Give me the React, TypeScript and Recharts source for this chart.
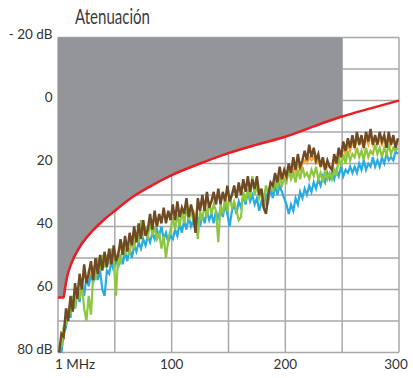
import { ComposedChart, Line, Area, XAxis, YAxis, CartesianGrid } from 'recharts'

// frequency axis (MHz): samples every 2 MHz starting at 1 MHz
const FREQ_START = 1
const FREQ_STEP = 2

// attenuation in dB
const BROWN = [
  80, 74, 75, 66, 70, 62, 67, 58, 63, 55,
  60, 52, 58, 55, 51, 57, 50, 55, 49, 54,
  48, 53, 47, 52, 46, 51, 49, 44, 49, 43,
  48, 42, 46, 40, 45, 39, 44, 38, 43, 41,
  36, 41, 35, 40, 36, 39, 34, 39, 35, 38,
  33, 38, 32, 37, 34, 36, 31, 37, 33, 36,
  42, 31, 35, 30, 35, 29, 34, 32, 29, 33,
  28, 33, 29, 32, 27, 32, 30, 27, 31, 26,
  30, 25, 29, 24, 29, 25, 28, 24, 30, 28,
  34, 36, 30, 26, 27, 23, 26, 21, 25, 22,
  24, 20, 23, 18, 22, 17, 21, 19, 16, 19,
  14, 18, 15, 19, 17, 21, 18, 22, 19, 21,
  22, 17, 20, 15, 18, 13, 16, 12, 15, 11,
  15, 10, 14, 11, 15, 10, 13, 9, 14, 11,
  14, 10, 13, 11, 15, 10, 14, 11, 15, 12,
]
const GREEN = [
  79, 78, 72, 71, 66, 68, 62, 66, 60, 63,
  58, 66, 70, 62, 68, 55, 57, 50, 54, 49,
  53, 49, 52, 47, 51, 62, 49, 52, 45, 49,
  46, 49, 43, 47, 42, 45, 38, 43, 40, 44,
  38, 43, 40, 44, 42, 47, 43, 50, 44, 41,
  37, 41, 36, 40, 35, 39, 34, 38, 35, 38,
  36, 44, 35, 38, 33, 37, 32, 36, 33, 35,
  45, 33, 36, 31, 35, 30, 34, 32, 35, 38,
  37, 29, 32, 28, 31, 24, 30, 27, 31, 29,
  31, 27, 30, 26, 29, 25, 28, 24, 27, 25,
  26, 22, 25, 23, 26, 22, 25, 21, 24, 23,
  25, 22, 24, 21, 25, 23, 26, 22, 25, 23,
  25, 22, 24, 18, 21, 17, 20, 16, 19, 17,
  18, 15, 18, 16, 19, 15, 18, 16, 17, 14,
  17, 15, 18, 15, 17, 14, 17, 15, 16, 15,
]
const BLUE = [
  78, 80, 74, 72, 67, 69, 63, 66, 61, 64,
  58, 62, 56, 59, 55, 58, 53, 57, 54, 60,
  62, 54, 55, 51, 54, 50, 53, 49, 52, 48,
  51, 47, 50, 46, 48, 45, 47, 44, 46, 43,
  45, 42, 44, 41, 43, 40, 44, 42, 45, 43,
  44, 41, 43, 39, 42, 38, 41, 37, 40, 38,
  41, 37, 40, 36, 39, 35, 38, 36, 39, 35,
  38, 34, 37, 33, 36, 40, 35, 33, 36, 32,
  34, 30, 33, 29, 32, 30, 33, 31, 35, 32,
  34, 30, 32, 28, 31, 27, 30, 27, 29, 31,
  33, 36, 33, 35, 31, 33, 29, 31, 28, 30,
  27, 29, 26, 28, 25, 27, 24, 26, 23, 25,
  23, 25, 22, 24, 21, 24, 22, 23, 21, 23,
  21, 23, 20, 22, 19, 22, 20, 21, 18, 21,
  19, 21, 18, 20, 17, 19, 18, 19, 16, 17,
]
const ORANGE = [
  79, 76, 72, 69, 68, 64, 65, 60, 61, 57,
  59, 55, 57, 54, 55, 53, 54, 51, 53, 51,
  50, 52, 49, 51, 48, 50, 48, 47, 47, 45,
  47, 44, 46, 42, 44, 41, 43, 40, 42, 41,
  38, 40, 37, 40, 37, 38, 36, 38, 36, 37,
  35, 37, 34, 36, 34, 35, 33, 36, 34, 35,
  38, 33, 34, 32, 34, 31, 33, 32, 31, 32,
  30, 32, 30, 31, 29, 31, 30, 28, 30, 28,
  29, 27, 28, 26, 28, 26, 27, 26, 29, 29,
  33, 33, 30, 27, 27, 25, 26, 23, 25, 24,
  25, 22, 24, 21, 23, 20, 22, 20, 19, 20,
  18, 19, 18, 20, 19, 21, 20, 22, 21, 21,
  22, 19, 20, 17, 18, 15, 17, 14, 16, 13,
  15, 12, 14, 13, 15, 12, 14, 11, 14, 12,
  14, 12, 14, 12, 15, 12, 14, 12, 15, 13,
]

// limit curve (red) and the grey forbidden zone above it
const LIMIT_MHZ = [0, 5, 6, 8, 12, 20, 30, 40, 50, 65, 80, 100, 125, 150, 175, 200, 225, 250, 275, 300]
const LIMIT_DB = [62.5, 62.5, 60, 56, 51.5, 46, 41.5, 38, 35, 30.8, 27.5, 23.7, 20, 16.7, 14, 11.5, 8.2, 5.1, 2.5, 0]
const ZONE_END_MHZ = 250

const X_TICKS = [0, 50, 100, 150, 200, 250, 300]
const Y_TICKS = [-20, -10, 0, 10, 20, 30, 40, 50, 60, 70, 80]

const FONT = 'Lato, "Open Sans", sans-serif'
const GRID = '#a7a9ac'

const data = BROWN.map((b, i) => ({
  f: FREQ_START + i * FREQ_STEP,
  blue: BLUE[i],
  orange: ORANGE[i],
  green: GREEN[i],
  brown: b,
}))

const limitData = LIMIT_MHZ.map((f, i) => ({ f, db: LIMIT_DB[i] }))
const zoneData = LIMIT_MHZ.filter((f) => f <= ZONE_END_MHZ).map((f, i) => ({ f, zone: [-20, LIMIT_DB[i]] }))

const YTick = ({ y, payload }: { y?: number; payload?: { value: number } }) => {
  const v = payload?.value ?? 0
  if (v % 20 !== 0) return <g />
  const label = v === -20 ? '- 20 dB' : v === 80 ? '80 dB' : String(v)
  return (
    <text x={52.5} y={(y ?? 0) + 1.5} textAnchor="end" fontFamily={FONT} fontSize={13.5} fill="#333">
      {label}
    </text>
  )
}

const XTick = ({ x, payload }: { x?: number; payload?: { value: number } }) => {
  const v = payload?.value ?? 0
  if (v % 100 !== 0) return <g />
  const first = v === 0
  return (
    <text
      x={first ? (x ?? 0) - 3 : (x ?? 0) - (v === 300 ? 3 : 0)}
      y={369}
      textAnchor={first ? 'start' : 'middle'}
      fontFamily={FONT}
      fontSize={13.5}
      fill="#333"
    >
      {first ? '1 MHz' : String(v)}
    </text>
  )
}

export default function App() {
  return (
    <div style={{ position: 'absolute', left: 0, top: 0, width: 413, height: 378, background: '#fff' }}>
      <svg width={413} height={30} style={{ position: 'absolute', left: 0, top: 0 }}>
        <text x={75} y={24} fontFamily={FONT} fontWeight={400}
          fontSize={21} fill="#3a3a3a" textLength={75} lengthAdjust="spacingAndGlyphs">
          Atenuación
        </text>
      </svg>
      <ComposedChart width={413} height={378} data={data} margin={{ top: 37.5, right: 14, bottom: 0, left: 0 }}>
        <CartesianGrid stroke={GRID} strokeWidth={1.5} />
        <XAxis
          dataKey="f"
          type="number"
          domain={[0, 300]}
          ticks={X_TICKS}
          axisLine={false}
          tickLine={false}
          height={25.5}
          tick={<XTick />}
          interval={0}
        />
        <YAxis
          type="number"
          domain={[-20, 80]}
          reversed
          ticks={Y_TICKS}
          axisLine={false}
          tickLine={false}
          width={58}
          tick={<YTick />}
          interval={0}
        />
        <Area data={zoneData} dataKey="zone" type="monotone" stroke="none" fill="#939598" fillOpacity={1} isAnimationActive={false} />
        <Line dataKey="blue" stroke="#29abe2" strokeWidth={2.2} dot={false} isAnimationActive={false} />
        <Line dataKey="orange" stroke="#f7a839" strokeWidth={2.2} dot={false} isAnimationActive={false} />
        <Line dataKey="green" stroke="#8dc63f" strokeWidth={2.2} dot={false} isAnimationActive={false} />
        <Line dataKey="brown" stroke="#6e4a25" strokeWidth={2.4} dot={false} isAnimationActive={false} />
        <Line data={limitData} dataKey="db" type="monotone" stroke="#ed1c24" strokeWidth={2.5} dot={false} isAnimationActive={false} />
      </ComposedChart>
    </div>
  )
}
